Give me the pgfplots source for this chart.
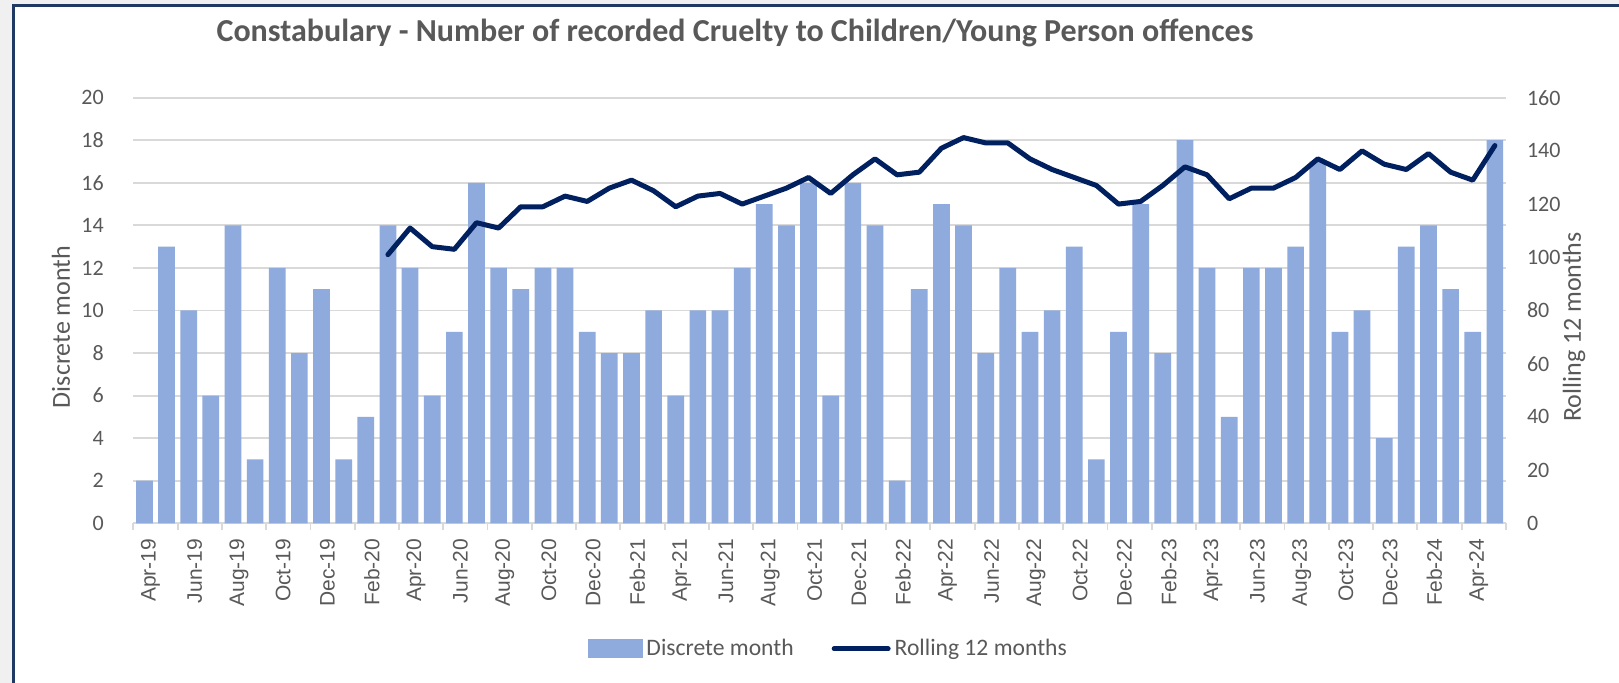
\documentclass[border=0pt]{standalone}
\usepackage{pgfplots}
\pgfplotsset{compat=1.18}
\usepackage{pgfplotstable}
\usepackage{fontspec}
\setmainfont{Carlito}
\newfontfamily\arialf{Liberation Sans}
\definecolor{barblue}{HTML}{8FAADC}
\definecolor{navy}{HTML}{002060}
\definecolor{textgray}{HTML}{595959}
\definecolor{gridgray}{HTML}{D9D9D9}
\definecolor{framenavy}{HTML}{1F3864}
\definecolor{bggray}{HTML}{F0F0F0}

\pgfplotstableread{
x val
1 2
2 13
3 10
4 6
5 14
6 3
7 12
8 8
9 11
10 3
11 5
12 14
13 12
14 6
15 9
16 16
17 12
18 11
19 12
20 12
21 9
22 8
23 8
24 10
25 6
26 10
27 10
28 12
29 15
30 14
31 16
32 6
33 16
34 14
35 2
36 11
37 15
38 14
39 8
40 12
41 9
42 10
43 13
44 3
45 9
46 15
47 8
48 18
49 12
50 5
51 12
52 12
53 13
54 17
55 9
56 10
57 4
58 13
59 14
60 11
61 9
62 18
}\discrete

\pgfplotstableread{
x val
12 101
13 111
14 104
15 103
16 113
17 111
18 119
19 119
20 123
21 121
22 126
23 129
24 125
25 119
26 123
27 124
28 120
29 123
30 126
31 130
32 124
33 131
34 137
35 131
36 132
37 141
38 145
39 143
40 143
41 137
42 133
43 130
44 127
45 120
46 121
47 127
48 134
49 131
50 122
51 126
52 126
53 130
54 137
55 133
56 140
57 135
58 133
59 139
60 132
61 129
62 142
}\rolling

\begin{document}
\begin{tikzpicture}
\path[use as bounding box, fill=white] (0,0) rectangle (809.5pt,341.5pt);
% frame
\fill[bggray] (0,0) rectangle (6.5pt,341.5pt);
\fill[bggray] (0,339.5pt) rectangle (809.5pt,341.5pt);
\draw[framenavy, line width=1.2pt] (6.8pt,0) -- (6.8pt,338.8pt) -- (809.5pt,338.8pt);

\begin{axis}[
  scale only axis,
  width=686.3pt, height=212.8pt,
  at={(66.67pt,79.85pt)}, anchor=south west,
  xmin=0.5, xmax=62.5, ymin=0, ymax=20,
  ytick={0,2,...,20},
  ymajorgrids, grid style={draw=gridgray, line width=0.9pt},
  axis x line*=bottom, axis y line*=left,
  x axis line style={draw=gridgray, line width=0.9pt, -},
  y axis line style={draw=none},
  ytick style={draw=none},
  xtick={1,3,...,61},
  xticklabels={Apr-19,Jun-19,Aug-19,Oct-19,Dec-19,Feb-20,Apr-20,Jun-20,Aug-20,Oct-20,Dec-20,Feb-21,Apr-21,Jun-21,Aug-21,Oct-21,Dec-21,Feb-22,Apr-22,Jun-22,Aug-22,Oct-22,Dec-22,Feb-23,Apr-23,Jun-23,Aug-23,Oct-23,Dec-23,Feb-24,Apr-24},
  major x tick style={draw=none},
  minor xtick={0.5,2.5,...,62.5},
  minor x tick style={draw=gridgray, line width=0.9pt},
  minor tick length=3.5pt,
  tick align=outside,
  x tick label style={font=\arialf\fontsize{10.5}{12}\selectfont, text=textgray, rotate=90, anchor=east, yshift=-3pt},
  y tick label style={font=\fontsize{11}{13}\selectfont, text=textgray, xshift=-7pt},
  /pgf/number format/assume math mode=true,
  clip=false,
]
\addplot[ybar, bar width=8.35pt, bar shift=0pt, fill=barblue, draw=none] table[x=x, y=val] {\discrete};
\end{axis}

\begin{axis}[
  scale only axis,
  width=686.3pt, height=212.8pt,
  at={(66.67pt,79.85pt)}, anchor=south west,
  xmin=0.5, xmax=62.5, ymin=0, ymax=160,
  ytick={0,20,...,160},
  hide x axis,
  axis y line*=right,
  y axis line style={draw=none},
  ytick style={draw=none},
  y tick label style={font=\fontsize{11}{13}\selectfont, text=textgray, xshift=7pt},
  /pgf/number format/assume math mode=true,
  legend columns=2,
  legend style={at={(0.507,-0.295)}, anchor=center, draw=none, fill=none,
    font=\fontsize{11.8}{13}\selectfont, text=textgray,
    /tikz/every even column/.append style={column sep=17pt},
    inner sep=0pt},
  clip=false,
]
\addlegendimage{legend image code/.code={\fill[barblue] (-4pt,-4.5pt) rectangle (23pt,4.5pt);}}
\addlegendentry{Discrete month}
\addplot[navy, line width=2.5pt, line join=round, line cap=round,
  legend image code/.code={\draw[navy, line width=2.5pt, line cap=round] (-4pt,0pt) -- (23pt,0pt);}]
  table[x=x, y=val] {\rolling};
\addlegendentry{Rolling 12 months}
\end{axis}

\node[font=\bfseries\fontsize{16}{18}\selectfont, text=textgray] at (367.5pt,325pt) {Constabulary - Number of recorded Cruelty to Children/Young Person offences};
\node[font=\fontsize{13}{15}\selectfont, text=textgray, rotate=90] at (30.5pt,178pt) {Discrete month};
\node[font=\fontsize{13}{15}\selectfont, text=textgray, rotate=90] at (787pt,178pt) {Rolling 12 months};
\end{tikzpicture}
\end{document}
